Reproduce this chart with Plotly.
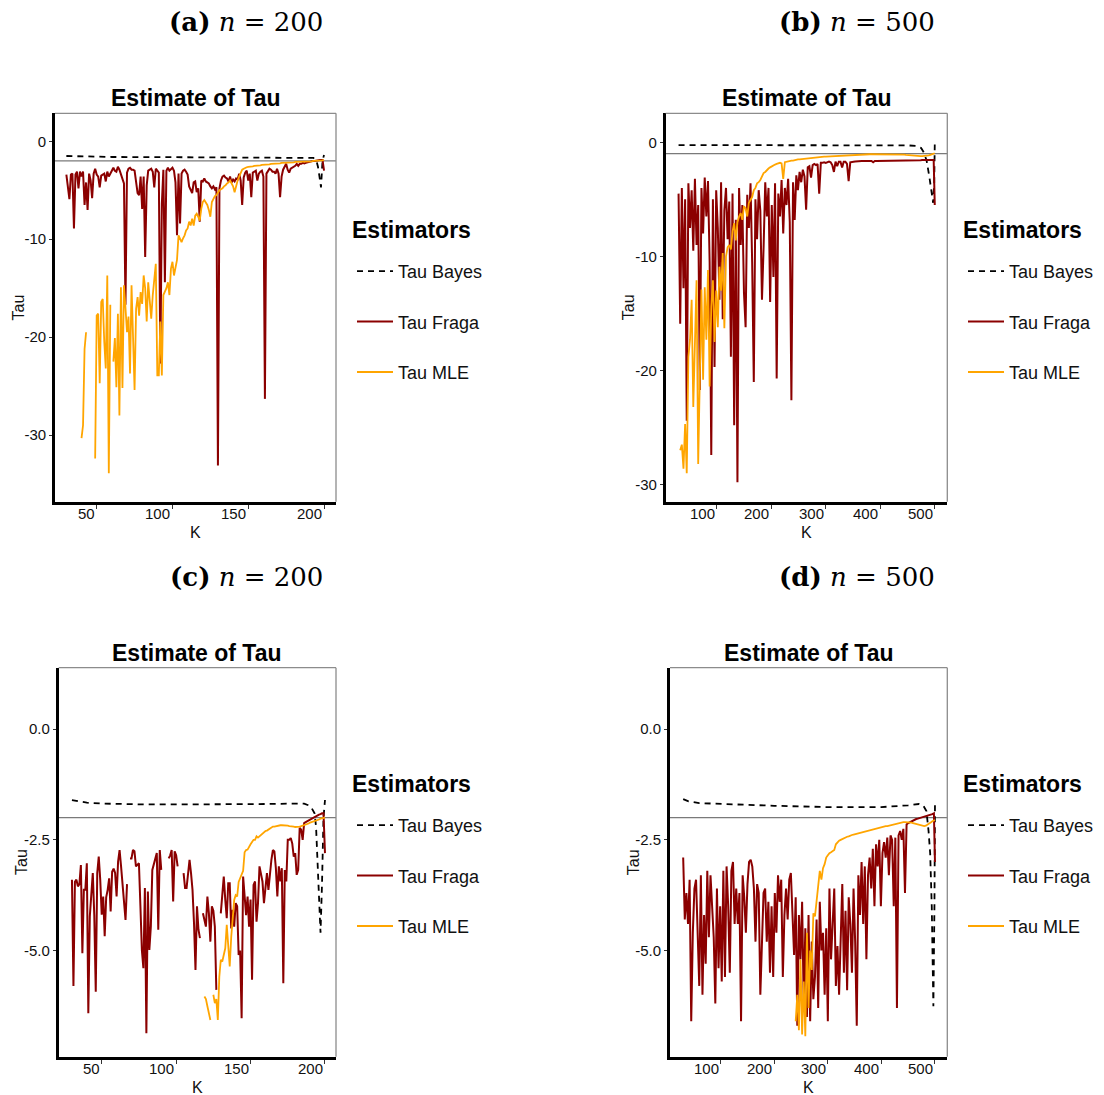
import plotly.graph_objects as go

FIG_W, FIG_H = 1104, 1095

# ---------------------------------------------------------------------------
# Panel (a): n = 200
# ---------------------------------------------------------------------------
K_A = list(range(30, 201))
FRAGA_A = [
    -3.4, -4.5, -5.9, -3.4, -3.3, -8.9, -3.4, -3.1, -4.8, -3.1,
    -3.6, -3.1, -6.5, -4.2, -7.0, -3.3, -4.0, -5.8, -3.3, -2.8,
    -3.4, -3.6, -4.7, -3.5, -3.4, -3.3, -4.1, -3.1, -3.6, -3.2,
    -3.0, -2.7, -3.0, -3.1, -2.6, -2.9, -3.4, -4.0, -4.3, -16.7,
    -3.2, -2.8, -2.7, -2.9, -2.9, -3.0, -4.5, -5.3, -5.5, -3.6,
    -6.9, -3.6, -11.8, -4.5, -3.0, -2.9, -2.8, -3.1, -4.7, -2.8,
    -3.0, -3.2, -22.7, -6.4, -2.9, -14.4, -3.0, -2.7, -3.0, -2.8,
    -2.7, -3.0, -4.2, -9.6, -3.3, -8.4, -3.3, -3.0, -2.9, -3.1,
    -3.4, -4.6, -5.0, -5.3, -4.2, -4.1, -5.2, -4.8, -8.2, -4.0,
    -4.1, -3.8, -4.1, -4.2, -4.3, -4.6, -4.8, -4.6, -4.9, -4.7,
    -33.1, -4.8, -4.0, -3.6, -3.5, -3.7, -3.8, -4.1, -3.6, -4.2,
    -3.9, -4.1, -3.8, -3.9, -3.3, -4.0, -6.5, -3.7, -3.2, -3.0,
    -4.0, -3.3, -5.7, -3.2, -3.1, -3.0, -4.0, -3.3, -3.1, -3.0,
    -3.6, -26.3, -3.3, -3.1, -2.8, -2.9, -3.1, -3.1, -3.3, -2.8,
    -3.3, -5.7, -3.6, -2.9, -2.6, -2.3, -2.9, -3.2, -2.8, -2.7,
    -2.6, -2.5, -2.3, -2.5, -2.3, -2.3, -2.2, -2.25, -2.2, -2.15,
    -2.1, -2.1, -2.05, -2.0, -2.0, -1.95, -1.95, -1.9, -1.9, -1.9,
    -3.0,
]
K_MLE_A = list(range(40, 201))
MLE_A = [
    -30.3, -29.0, -21.2, -19.5, None, None, None, None, None, -32.4,
    -17.8, -17.6, -24.7, -16.4, -16.1, -20.5, -23.2, -13.7, -33.9, -16.7,
    None, -22.5, -20.1, -25.1, -17.6, -28.0, -14.9, -25.2, -14.7, -17.0,
    -19.5, -17.9, -23.7, -14.7, -20.5, -25.4, -17.1, -15.9, -17.8, -15.4,
    -16.6, -13.7, -15.0, -18.4, -14.4, -16.4, -18.1, -15.7, -13.7, -12.5,
    -23.9, -23.9, -18.4, -23.9, -15.7, -15.4, -15.0, -14.4, -15.7, -13.0,
    -12.3, -13.7, -12.8, -12.1, -9.6, -9.9, -10.3, -9.9, -9.6, -9.1,
    -8.9, -8.2, -8.6, -7.9, -8.6, -7.6, -7.4, -7.7, -8.1, -6.9,
    -6.2, -6.0, -6.3, -6.5, -7.0, -7.7, -6.2, -5.8, -5.6, -5.5,
    -5.2, -5.0, -4.9, -4.8, -4.6, -4.5, -4.3, -4.2, -4.0, -4.3,
    -4.6, -5.2, -4.5, -4.0, -3.6, -3.2, -2.9, -2.8, -2.7, -2.65,
    -2.6, -2.6, -2.55, -2.55, -2.5, -2.5, -2.5, -2.45, -2.45, -2.4,
    -2.4, -2.4, -2.35, -2.35, -2.35, -2.3, -2.3, -2.3, -2.3, -2.25,
    -2.25, -2.25, -2.2, -2.2, -2.2, -2.2, -2.2, -2.15, -2.15, -2.15,
    -2.15, -2.1, -2.1, -2.1, -2.1, -2.1, -2.1, -2.05, -2.05, -2.05,
    -2.05, -2.05, -2.05, -2.0, -2.0, -2.0, -2.0, -2.0, -1.95, -1.95,
    -1.9,
]
K_BAYES_A = [30, 40, 60, 100, 150, 190, 193, 195, 196, 197, 198, 199, 200]
BAYES_A = [-1.5, -1.55, -1.6, -1.62, -1.63, -1.65, -1.7, -2.0, -2.6, -3.6, -4.7, -2.0, -1.4]

# ---------------------------------------------------------------------------
# Panel (b): n = 500
# ---------------------------------------------------------------------------
K_B = list(range(30, 499, 3)) + [500]
FRAGA_B = [
    -4.5, -15.9, -4.0, -12.8, -5.0, -24.4, -3.6, -7.5, -4.2, -9.5,
    -3.2, -9.0, -5.5, -21.7, -4.0, -8.0, -3.1, -6.5, -3.4, -10.5,
    -27.4, -5.0, -19.7, -4.2, -7.5, -13.8, -3.5, -15.5, -6.0, -4.0,
    -8.5, -5.2, -18.8, -4.5, -24.8, -6.8, -29.8, -4.0, -9.0, -5.5,
    -13.2, -16.2, -4.6, -7.5, -3.6, -10.5, -21.0, -5.0, -8.5, -4.2,
    -6.0, -13.8, -9.2, -3.5, -6.5, -4.0, -14.0, -5.5, -11.8, -3.6,
    -20.7, -4.5, -6.5, -3.3, -8.0, -4.0, -5.5, -3.2, -7.0, -22.6,
    -3.5, -6.8, -2.9, -4.2, -2.6, -3.5, -2.4, -3.0, -5.9, -2.2,
    -2.1, -3.1, -2.0, -1.9, -2.0, -1.9, -4.5, -1.8, -1.8, -1.75,
    -1.8, -1.75, -1.7, -1.75, -2.0, -2.6, -1.7, -2.1, -1.7, -1.7,
    -2.2, -1.7, -1.7, -1.9, -3.4, -1.75, -1.7, -1.7, -1.68, -1.66,
    -1.66, -1.65, -1.65, -1.65, -1.65, -1.64, -1.64, -1.64, -1.64, -1.75,
    -1.64, -1.63, -1.63, -1.63, -1.62, -1.62, -1.62, -1.62, -1.61, -1.61,
    -1.61, -1.61, -1.6, -1.6, -1.6, -1.6, -1.6, -1.59, -1.59, -1.59,
    -1.59, -1.58, -1.58, -1.58, -1.58, -1.57, -1.57, -1.57, -1.57, -1.56,
    -1.56, -1.56, -1.56, -1.55, -1.55, -1.55, -1.55,
    -5.5,
]
K_MLE_B = list(range(33, 499, 3)) + [500]
MLE_B = [
    -27.0, -26.5, -28.6, -24.7, -29.0, -18.8, -17.3, -13.8, -23.2, -16.2,
    -12.1, -28.2, -20.3, -12.9, -20.8, -12.7, -17.3, -11.2, -21.4, -14.4,
    -12.1, -17.5, -13.0, -16.2, -10.9, -13.0, -9.7, -16.3, -10.0, -9.2,
    -9.0, -9.4, -7.8, -7.1, -8.6, -7.0, -6.5, -6.2, -6.8, -5.6,
    -5.8, -6.5, -5.3, -5.1, -4.8, -4.2, -4.0, -3.6, -3.5, -3.3,
    -3.0, -2.7, -2.6, -2.4, -2.3, -2.2, -2.1, -2.0, -1.95, -1.9,
    -1.85, -1.8, -1.85, -3.2, -1.75, -1.7, -1.7, -1.65, -1.6, -1.6,
    -1.55, -1.55, -1.5, -1.5, -1.48, -1.46, -1.44, -1.42, -1.4, -1.38,
    -1.36, -1.35, -1.34, -1.32, -1.3, -1.29, -1.28, -1.27, -1.26, -1.25,
    -1.24, -1.23, -1.22, -1.21, -1.2, -1.19, -1.18, -1.17, -1.16, -1.15,
    -1.15, -1.14, -1.13, -1.12, -1.12, -1.11, -1.1, -1.1, -1.09, -1.09,
    -1.08, -1.08, -1.07, -1.07, -1.06, -1.06, -1.05, -1.05, -1.05, -1.04,
    -1.04, -1.04, -1.03, -1.03, -1.03, -1.03, -1.02, -1.02, -1.02, -1.02,
    -1.02, -1.02, -1.02, -1.02, -1.03, -1.04, -1.06, -1.08, -1.1, -1.12,
    -1.14, -1.16, -1.18, -1.2, -1.2, -1.21, -1.22, -1.22, -1.22, -1.21,
    -1.2, -1.18, -1.15, -1.1, -1.05, -1.0,
    -0.96,
]
K_BAYES_B = [30, 100, 200, 300, 400, 450, 465, 475, 480, 485, 490, 494, 497, 499, 500]
BAYES_B = [-0.25, -0.25, -0.25, -0.25, -0.25, -0.27, -0.32, -0.5, -0.9, -1.6, -3.0, -4.3, -5.3, -3.5, -0.2]

# ---------------------------------------------------------------------------
# Panel (c): n = 200
# ---------------------------------------------------------------------------
K_C = list(range(30, 201))
FRAGA_C = [
    -3.4, -5.8, -3.45, -3.4, -3.55, -3.5, -3.07, -5.06, -3.63, -3.63,
    -3.03, -6.42, -4.23, -3.6, -3.25, -4.2, -5.93, -3.25, -2.88, -3.4,
    -4.19, -3.78, -4.68, -3.8, -3.63, -3.37, -4.12, -3.22, -3.15, -3.25,
    -3.78, -2.99, -2.73, -3.1, -3.5, -3.86, -4.31, -3.5, None, -2.92,
    -2.92, -2.73, -2.76, -3.1, -3.07, -3.03, -4.0, -5.0, -5.4, -3.59,
    -6.87, -3.67, -4.99, -4.46, -3.18, -3.07, -2.95, -2.8, -4.53, -2.73,
    -3.18, None, None, None, None, -2.92, -2.85, -2.73, -3.89, -2.76,
    -2.85, -3.1, None, None, None, -3.25, -3.59, -3.59, -3.25, -2.95,
    -3.25, -3.63, -4.38, -5.44, -4.0, -4.53, -4.72, None, -4.16, -4.3,
    -4.46, -3.78, -4.16, -4.8, -4.0, -4.1, -4.46, -5.89, None, None,
    -4.16, -3.78, -3.33, -3.85, -4.27, -3.48, -3.48, -4.5, -4.08, -4.46,
    -3.93, -4.0, -5.1, -5.0, -6.53, -3.33, -3.71, -4.2, -3.78, -4.46,
    -3.85, -5.66, -3.52, -3.44, -4.35, -3.93, -3.1, -3.25, -3.44, -3.93,
    -3.63, -3.25, -3.63, -3.25, -2.95, -2.73, -2.76, -3.14, -3.78, -3.1,
    -3.44, -3.14, -5.74, -3.18, -3.44, -2.5, -2.5, -2.46, -2.58, -2.88,
    -2.8, -3.29, -3.18, -2.23, -2.27, -2.5, -2.12, -2.1, -2.08, -2.06,
    -2.04, -2.02, -2.0, -1.98, -1.96, -1.94, -1.93, -1.92, -1.9, -1.9,
    -2.8,
]
K_MLE_C = list(range(119, 201))
MLE_C = [
    -6.04, -6.1, -6.26, -6.4, -6.57, None, -6.0, -6.19, -6.1, -6.57,
    -5.6, -5.21, -5.25, -5.06, -4.95, -4.42, -4.8, -5.36, -4.7, -4.2,
    -3.86, -3.75, -3.78, -3.45, -3.35, -3.25, -3.2, -2.78, -2.73, -2.72,
    -2.65, -2.6, -2.55, -2.5, -2.5, -2.42, -2.45, -2.42, -2.38, -2.35,
    -2.33, -2.3, -2.29, -2.27, -2.25, -2.22, -2.2, -2.2, -2.19, -2.18,
    -2.18, -2.17, -2.17, -2.17, -2.17, -2.18, -2.18, -2.19, -2.19, -2.2,
    -2.2, -2.21, -2.21, -2.2, -2.2, -2.19, -2.18, -2.17, -2.16, -2.15,
    -2.13, -2.11, -2.1, -2.08, -2.07, -2.06, -2.05, -2.04, -2.02, -2.01,
    -2.0, -2.0,
]
K_BAYES_C = [30, 35, 40, 50, 60, 80, 100, 120, 140, 160, 180, 186, 189, 191,
             193, 194, 195, 196, 197, 198, 199, 200]
BAYES_C = [-1.6, -1.63, -1.66, -1.68, -1.69, -1.7, -1.7, -1.7, -1.69, -1.69, -1.68,
           -1.68, -1.72, -1.78, -1.9, -2.2, -3.0, -3.8, -4.6, -3.5, -2.0, -1.6]

# ---------------------------------------------------------------------------
# Panel (d): n = 500
# ---------------------------------------------------------------------------
K_D = list(range(30, 499, 3)) + [500]
FRAGA_D = [
    -2.9, -4.3, -3.7, -4.4, -3.4, -6.6, -4.6, -3.6, -3.4, -4.4,
    -5.8, -3.3, -6.0, -4.2, -5.3, -3.2, -4.7, -3.3, -4.1, -4.7,
    -6.2, -3.6, -5.4, -4.0, -5.7, -3.2, -5.6, -3.1, -4.0, -5.5,
    -3.2, -3.0, -4.4, -3.6, -4.4, -3.7, -6.6, -3.3, -3.8, -4.6,
    -3.5, -3.0, -2.95, -3.1, -3.6, -4.8, -3.5, -3.7, -6.0, -4.9,
    -3.7, -3.6, -4.8, -3.9, -5.5, -4.0, -5.6, -3.7, -4.6, -3.3,
    -3.9, -3.4, -5.6, -4.2, -3.6, -4.3, -3.4, -3.25, -4.2, -5.1,
    -3.8, -6.7, -4.2, -5.2, -3.9, -6.2, -4.5, -6.5, -4.2, -6.6,
    -4.8, -6.1, -5.6, -4.3, -6.3, -3.9, -5.0, -4.6, -6.0, -4.5,
    -6.6, -3.6, -5.2, -4.3, -3.6, -5.8, -4.9, -6.0, -4.7, -3.5,
    -5.5, -4.1, -5.9, -3.8, -4.4, -5.5, -3.6, -4.8, -6.7, -3.3,
    -4.2, -3.0, -4.4, -3.1, -5.2, -3.3, -2.9, -3.6, -2.7, -4.0,
    -2.6, -3.1, -2.5, -4.0, -2.8, -2.55, -2.9, -2.45, -3.3, -2.4,
    -2.5, -4.0, -2.45, -6.3, -2.4, -2.3, -2.5, -2.25, -3.7, -2.15,
    -2.12, -2.1, -2.08, -2.06, -2.05, -2.03, -2.02, -2.01, -2.0, -1.99,
    -1.98, -1.97, -1.96, -1.95, -1.93, -1.92, -1.9,
    -3.0,
]
K_MLE_D = list(range(240, 499, 3)) + [500]
MLE_D = [
    -6.6, -6.0, -6.8, -5.2, -6.9, -5.7, -6.94, -4.6, -6.3, -5.0,
    -5.44, -4.16, -4.23, -3.9, -3.63, -3.2, -3.4, -3.14, -3.05, -2.9,
    -2.85, -2.8, -2.78, -2.75, -2.73, -2.6, -2.55, -2.52, -2.5, -2.48,
    -2.46, -2.45, -2.43, -2.42, -2.4, -2.39, -2.38, -2.37, -2.36, -2.35,
    -2.34, -2.33, -2.32, -2.31, -2.3, -2.29, -2.28, -2.28, -2.27, -2.26,
    -2.25, -2.24, -2.23, -2.22, -2.21, -2.2, -2.19, -2.19, -2.18, -2.17,
    -2.16, -2.15, -2.14, -2.13, -2.12, -2.11, -2.1, -2.1, -2.1, -2.1,
    -2.1, -2.1, -2.11, -2.12, -2.13, -2.14, -2.15, -2.16, -2.18, -2.19,
    -2.19, -2.18, -2.16, -2.14, -2.11, -2.08, -2.06,
    -2.05,
]
K_BAYES_D = [30, 40, 60, 100, 200, 300, 400, 450, 470, 478, 484, 488, 491, 494, 497, 499, 500]
BAYES_D = [-1.58, -1.63, -1.67, -1.69, -1.73, -1.76, -1.76, -1.72, -1.69, -1.72,
           -1.85, -2.3, -2.8, -4.0, -6.26, -4.0, -1.67]

# Tick values / labels
X_TICKS_200 = [50, 100, 150, 200]
X_TICKS_500 = [100, 200, 300, 400, 500]
Y_TICKS_WIDE = [0, -10, -20, -30]
Y_LABELS_WIDE = ["0", "-10", "-20", "-30"]
Y_TICKS_NARROW = [0, -2.5, -5]
Y_LABELS_NARROW = ["0.0", "-2.5", "-5.0"]

SERIES_NAMES = ["Tau Bayes", "Tau Fraga", "Tau MLE"]

# ---------------------------------------------------------------------------
# Styling / layout helpers
# ---------------------------------------------------------------------------
SANS = "Liberation Sans, Arial, sans-serif"
SERIF = "DejaVu Serif, serif"
INK = "#111111"
DARK_RED = "#8B0000"
ORANGE = "#FFA500"


def fx(px):
    return px / FIG_W


def fy(px):
    return 1 - px / FIG_H


panels = [
    dict(sfx="", box=(55.0, 336.0, 113.3, 501.7), xr=[22.5, 207.9], yr=[-36.8, 2.86],
         xt=X_TICKS_200, yt=Y_TICKS_WIDE, ytl=Y_LABELS_WIDE, tau=-2,
         caption="<b>(a)</b> <i>n</i> = 200", cap_xy=(246, 22), legend_xy=(352, 230),
         data=((K_BAYES_A, BAYES_A), (K_A, FRAGA_A), (K_MLE_A, MLE_A))),
    dict(sfx="2", box=(665.7, 947.3, 113.3, 501.7), xr=[6.4, 523.0], yr=[-31.5, 2.54],
         xt=X_TICKS_500, yt=Y_TICKS_WIDE, ytl=Y_LABELS_WIDE, tau=-1,
         caption="<b>(b)</b> <i>n</i> = 500", cap_xy=(857, 22), legend_xy=(963, 230),
         data=((K_BAYES_B, BAYES_B), (K_B, FRAGA_B), (K_MLE_B, MLE_B))),
    dict(sfx="3", box=(58.7, 336.0, 667.7, 1056.7), xr=[21.1, 207.4], yr=[-7.40, 1.39],
         xt=X_TICKS_200, yt=Y_TICKS_NARROW, ytl=Y_LABELS_NARROW, tau=-2,
         caption="<b>(c)</b> <i>n</i> = 200", cap_xy=(246, 577), legend_xy=(352, 784),
         data=((K_BAYES_C, BAYES_C), (K_C, FRAGA_C), (K_MLE_C, MLE_C))),
    dict(sfx="4", box=(670.0, 947.3, 667.7, 1056.7), xr=[5.4, 523.0], yr=[-7.40, 1.39],
         xt=X_TICKS_500, yt=Y_TICKS_NARROW, ytl=Y_LABELS_NARROW, tau=-2,
         caption="<b>(d)</b> <i>n</i> = 500", cap_xy=(857, 577), legend_xy=(963, 784),
         data=((K_BAYES_D, BAYES_D), (K_D, FRAGA_D), (K_MLE_D, MLE_D))),
]

line_styles = [
    dict(color="black", width=1.8, dash="6px,5px"),
    dict(color=DARK_RED, width=2.0),
    dict(color=ORANGE, width=1.8),
]

fig = go.Figure()
layout = dict(
    width=FIG_W, height=FIG_H,
    margin=dict(l=0, r=0, t=0, b=0),
    paper_bgcolor="white", plot_bgcolor="white",
    font=dict(family=SANS, color=INK),
    annotations=[], shapes=[],
)

for i, p in enumerate(panels):
    sfx = p["sfx"]
    xa, ya = "x" + sfx, "y" + sfx
    legend_id = "legend" + sfx
    left, right, top, bottom = p["box"]

    for name, (kk, vv), style in zip(SERIES_NAMES, p["data"], line_styles):
        fig.add_trace(go.Scatter(
            x=kk, y=vv, mode="lines", name=name, line=style,
            xaxis=xa, yaxis=ya, legend=legend_id,
            legendgroup=f"{name}-{i}", connectgaps=False, hoverinfo="skip",
        ))

    layout["xaxis" + sfx] = dict(
        domain=[fx(left), fx(right)], range=p["xr"], anchor=ya,
        tickvals=p["xt"], showticklabels=False,
        ticks="outside", ticklen=4, tickwidth=1, tickcolor="#333333",
        showline=True, linecolor="black", linewidth=2.7,
        showgrid=False, zeroline=False, fixedrange=True,
    )
    layout["yaxis" + sfx] = dict(
        domain=[fy(bottom), fy(top)], range=p["yr"], anchor=xa,
        tickvals=p["yt"], ticktext=p["ytl"],
        tickfont=dict(family=SANS, size=15, color=INK),
        ticks="outside", ticklen=3, tickwidth=1, tickcolor="#333333",
        showline=True, linecolor="black", linewidth=2.7,
        showgrid=False, zeroline=False, fixedrange=True,
    )

    # gray border on the top and right sides of the panel, plus the true-tau line
    layout["shapes"] += [
        dict(type="line", xref="paper", yref="paper", x0=fx(left), x1=fx(right),
             y0=fy(top), y1=fy(top), line=dict(color="#8c8c8c", width=1.3)),
        dict(type="line", xref="paper", yref="paper", x0=fx(right), x1=fx(right),
             y0=fy(top), y1=fy(bottom), line=dict(color="#8c8c8c", width=1.3)),
        dict(type="line", xref=xa + " domain", yref=ya, x0=0, x1=1,
             y0=p["tau"], y1=p["tau"], layer="below",
             line=dict(color="#7a7a7a", width=1.3)),
    ]

    cx = (left + right) / 2
    # x tick labels, right-aligned on the tick marks
    for t in p["xt"]:
        layout["annotations"].append(dict(
            x=t, xref=xa, y=fy(bottom + 11.6), yref="paper", text=str(t),
            showarrow=False, xanchor="right", yanchor="middle",
            font=dict(family=SANS, size=15, color=INK)))
    # axis titles
    layout["annotations"].append(dict(
        x=fx(cx), y=fy(bottom + 30.5), xref="paper", yref="paper", text="K",
        showarrow=False, xanchor="center", yanchor="middle",
        font=dict(family=SANS, size=16, color=INK)))
    layout["annotations"].append(dict(
        x=fx(left - 37), y=fy((top + bottom) / 2), xref="paper", yref="paper",
        text="Tau", textangle=-90, showarrow=False, xanchor="center", yanchor="middle",
        font=dict(family=SANS, size=16, color=INK)))
    # panel title
    layout["annotations"].append(dict(
        x=fx(cx), y=fy(top - 15), xref="paper", yref="paper",
        text="<b>Estimate of Tau</b>", showarrow=False,
        xanchor="center", yanchor="middle",
        font=dict(family=SANS, size=23, color="black")))
    # sub-figure caption
    layout["annotations"].append(dict(
        x=fx(p["cap_xy"][0]), y=fy(p["cap_xy"][1]), xref="paper", yref="paper",
        text=p["caption"], showarrow=False, xanchor="center", yanchor="middle",
        font=dict(family=SERIF, size=26, color="black")))

    # legend: heading as text, entries as a per-panel legend below it
    lx, ly = p["legend_xy"]
    layout["annotations"].append(dict(
        x=fx(lx - 2), y=fy(ly), xref="paper", yref="paper",
        text="<b>Estimators</b>", showarrow=False, xanchor="left", yanchor="middle",
        font=dict(family=SANS, size=23, color="black")))
    layout[legend_id] = dict(
        x=fx(lx), y=fy(ly + 23), xanchor="left", yanchor="top",
        bgcolor="rgba(0,0,0,0)", borderwidth=0,
        font=dict(family=SANS, size=18, color=INK),
        traceorder="grouped", tracegroupgap=24, itemwidth=36,
    )

fig.update_layout(**layout)
fig.write_html("out.html")
